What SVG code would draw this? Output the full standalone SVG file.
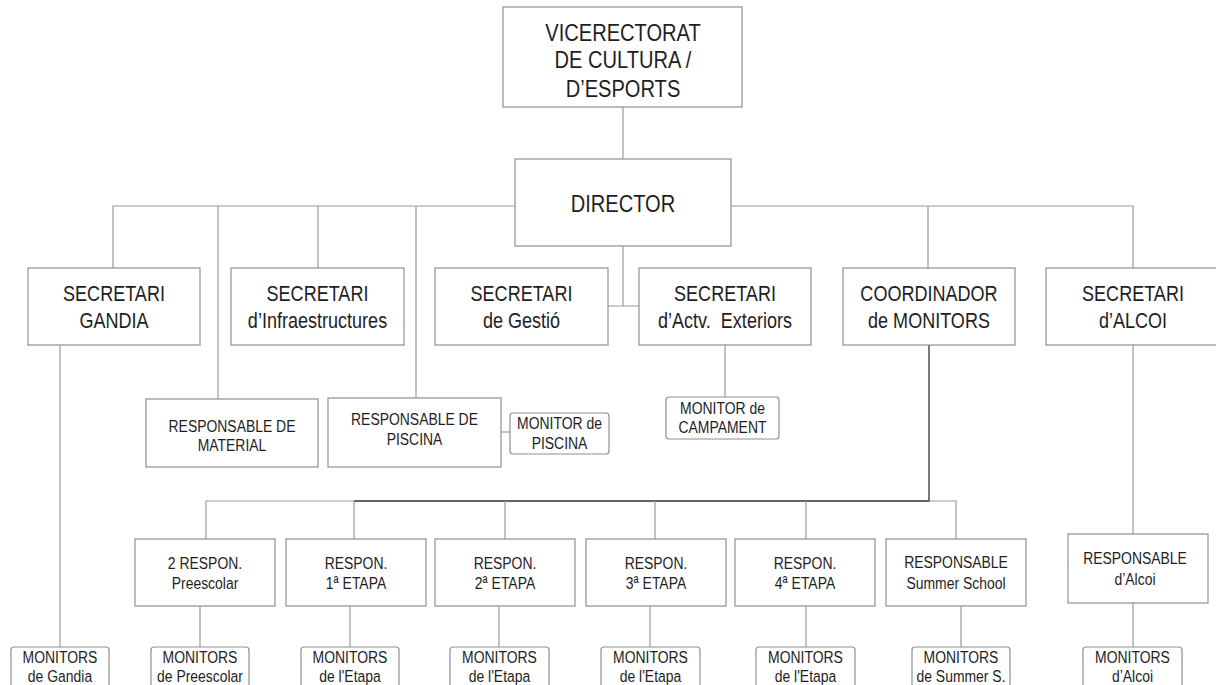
<svg xmlns="http://www.w3.org/2000/svg" width="1216" height="685" viewBox="0 0 1216 685">
<style>
.box{fill:#fff;stroke:#8f8f8f;stroke-width:1.2}
.rbox{fill:#fff;stroke:#8f8f8f;stroke-width:1.2}
.ln{fill:none;stroke:#9a9a9a;stroke-width:1.2}
.dk{fill:none;stroke:#333;stroke-width:1.3}
text{font-family:"Liberation Sans",Arial,sans-serif;fill:#1e1e1e;text-anchor:middle}
.t1{font-size:24.5px}
.t2{font-size:22px}
.t3{font-size:17px}
</style>
<rect width="1216" height="685" fill="#fff"/>
<g id="connectors">
<path class="ln" d="M623 107V159"/>
<path class="ln" d="M515 206H113V268M218 206V399M318 206V268M416 206V398"/>
<path class="ln" d="M731 206H1133V268M928 206V268"/>
<path class="ln" d="M623 246V306M608 306H639"/>
<path class="ln" d="M60 345V647"/>
<path class="ln" d="M501 432H510"/>
<path class="ln" d="M725 345V397"/>
<path class="dk" d="M929 345V501H354"/>
<path class="ln" d="M354 501H206V539M354 501V539M505 501V539M655 501V539M806 501V539"/>
<path class="ln" d="M929 501H956V539"/>
<path class="ln" d="M1133 345V534M1133 603V647"/>
<path class="ln" d="M200 606V647M350 606V647M499 606V647M650 606V647M806 606V647M961 606V647"/>
</g>
<g id="vicerectorat"><rect class="box" x="503" y="7" width="239" height="100"/>
<text class="t1" transform="matrix(0.82 0 0 1 623 0)" y="41">VICERECTORAT</text><text class="t1" transform="matrix(0.82 0 0 1 623 0)" y="68">DE CULTURA /</text><text class="t1" transform="matrix(0.82 0 0 1 623 0)" y="97">D’ESPORTS</text></g>
<g id="director"><rect class="box" x="515" y="159" width="216" height="87"/><text class="t1" transform="matrix(0.82 0 0 1 623 0)" y="212">DIRECTOR</text></g>
<g id="sec-gandia"><rect class="box" x="28" y="268" width="172" height="77"/><text class="t2" transform="matrix(0.82 0 0 1 114 0)" y="301.5">SECRETARI</text><text class="t2" transform="matrix(0.82 0 0 1 114 0)" y="328">GANDIA</text></g>
<g id="sec-infra"><rect class="box" x="231" y="268" width="173" height="77"/><text class="t2" transform="matrix(0.82 0 0 1 317.5 0)" y="301.5">SECRETARI</text><text class="t2" transform="matrix(0.82 0 0 1 317.5 0)" y="328">d’Infraestructures</text></g>
<g id="sec-gestio"><rect class="box" x="435" y="268" width="173" height="77"/><text class="t2" transform="matrix(0.82 0 0 1 521.5 0)" y="301.5">SECRETARI</text><text class="t2" transform="matrix(0.82 0 0 1 521.5 0)" y="328">de Gestió</text></g>
<g id="sec-actv"><rect class="box" x="639" y="268" width="172" height="77"/><text class="t2" transform="matrix(0.82 0 0 1 725 0)" y="301.5">SECRETARI</text><text class="t2" transform="matrix(0.82 0 0 1 725 0)" y="328" style="white-space:pre">d’Actv.  Exteriors</text></g>
<g id="coordinador"><rect class="box" x="843" y="268" width="172" height="77"/><text class="t2" transform="matrix(0.82 0 0 1 929 0)" y="301.5">COORDINADOR</text><text class="t2" transform="matrix(0.82 0 0 1 929 0)" y="328">de MONITORS</text></g>
<g id="sec-alcoi"><rect class="box" x="1046" y="268" width="174" height="77"/><text class="t2" transform="matrix(0.82 0 0 1 1133 0)" y="301.5">SECRETARI</text><text class="t2" transform="matrix(0.82 0 0 1 1133 0)" y="328">d’ALCOI</text></g>
<g id="resp-material"><rect class="box" x="146" y="399" width="172" height="68"/><text class="t3" transform="matrix(0.82 0 0 1 232 0)" y="432">RESPONSABLE DE</text><text class="t3" transform="matrix(0.82 0 0 1 232 0)" y="451">MATERIAL</text></g>
<g id="resp-piscina"><rect class="box" x="328" y="398" width="173" height="69"/><text class="t3" transform="matrix(0.82 0 0 1 414.5 0)" y="425">RESPONSABLE DE</text><text class="t3" transform="matrix(0.82 0 0 1 414.5 0)" y="445">PISCINA</text></g>
<g id="mon-piscina"><rect class="rbox" x="510" y="413" width="99" height="41" rx="3"/><text class="t3" transform="matrix(0.82 0 0 1 559.5 0)" y="429">MONITOR de</text><text class="t3" transform="matrix(0.82 0 0 1 559.5 0)" y="449">PISCINA</text></g>
<g id="mon-campament"><rect class="rbox" x="666" y="397" width="113" height="42" rx="3"/><text class="t3" transform="matrix(0.82 0 0 1 722.5 0)" y="414">MONITOR de</text><text class="t3" transform="matrix(0.82 0 0 1 722.5 0)" y="433">CAMPAMENT</text></g>
<g id="resp-preescolar"><rect class="box" x="135" y="539" width="140" height="67"/><text class="t3" transform="matrix(0.82 0 0 1 205 0)" y="569">2 RESPON.</text><text class="t3" transform="matrix(0.82 0 0 1 205 0)" y="589">Preescolar</text></g>
<g id="resp-1"><rect class="box" x="286" y="539" width="140" height="67"/><text class="t3" transform="matrix(0.82 0 0 1 356 0)" y="569">RESPON.</text><text class="t3" transform="matrix(0.82 0 0 1 356 0)" y="589">1ª ETAPA</text></g>
<g id="resp-2"><rect class="box" x="435" y="539" width="140" height="67"/><text class="t3" transform="matrix(0.82 0 0 1 505 0)" y="569">RESPON.</text><text class="t3" transform="matrix(0.82 0 0 1 505 0)" y="589">2ª ETAPA</text></g>
<g id="resp-3"><rect class="box" x="586" y="539" width="140" height="67"/><text class="t3" transform="matrix(0.82 0 0 1 656 0)" y="569">RESPON.</text><text class="t3" transform="matrix(0.82 0 0 1 656 0)" y="589">3ª ETAPA</text></g>
<g id="resp-4"><rect class="box" x="735" y="539" width="140" height="67"/><text class="t3" transform="matrix(0.82 0 0 1 805 0)" y="569">RESPON.</text><text class="t3" transform="matrix(0.82 0 0 1 805 0)" y="589">4ª ETAPA</text></g>
<g id="resp-summer"><rect class="box" x="886" y="539" width="140" height="67"/><text class="t3" transform="matrix(0.82 0 0 1 956 0)" y="568">RESPONSABLE</text><text class="t3" transform="matrix(0.82 0 0 1 956 0)" y="589">Summer School</text></g>
<g id="resp-alcoi"><rect class="box" x="1068" y="534" width="140" height="69"/><text class="t3" transform="matrix(0.82 0 0 1 1135 0)" y="564">RESPONSABLE</text><text class="t3" transform="matrix(0.82 0 0 1 1135 0)" y="585">d’Alcoi</text></g>
<g id="mon-gandia"><rect class="rbox" x="11" y="647" width="98" height="60" rx="3"/><text class="t3" transform="matrix(0.82 0 0 1 60 0)" y="663">MONITORS</text><text class="t3" transform="matrix(0.82 0 0 1 60 0)" y="682">de Gandia</text></g>
<g id="mon-preescolar"><rect class="rbox" x="151" y="647" width="98" height="60" rx="3"/><text class="t3" transform="matrix(0.82 0 0 1 200 0)" y="663">MONITORS</text><text class="t3" transform="matrix(0.82 0 0 1 200 0)" y="682">de Preescolar</text></g>
<g id="mon-1"><rect class="rbox" x="301" y="647" width="98" height="60" rx="3"/><text class="t3" transform="matrix(0.82 0 0 1 350 0)" y="663">MONITORS</text><text class="t3" transform="matrix(0.82 0 0 1 350 0)" y="682">de l'Etapa</text></g>
<g id="mon-2"><rect class="rbox" x="450" y="647" width="99" height="60" rx="3"/><text class="t3" transform="matrix(0.82 0 0 1 499.5 0)" y="663">MONITORS</text><text class="t3" transform="matrix(0.82 0 0 1 499.5 0)" y="682">de l'Etapa</text></g>
<g id="mon-3"><rect class="rbox" x="601" y="647" width="99" height="60" rx="3"/><text class="t3" transform="matrix(0.82 0 0 1 650.5 0)" y="663">MONITORS</text><text class="t3" transform="matrix(0.82 0 0 1 650.5 0)" y="682">de l'Etapa</text></g>
<g id="mon-4"><rect class="rbox" x="756" y="647" width="99" height="60" rx="3"/><text class="t3" transform="matrix(0.82 0 0 1 805.5 0)" y="663">MONITORS</text><text class="t3" transform="matrix(0.82 0 0 1 805.5 0)" y="682">de l'Etapa</text></g>
<g id="mon-summer"><rect class="rbox" x="912" y="647" width="98" height="60" rx="3"/><text class="t3" transform="matrix(0.82 0 0 1 961 0)" y="663">MONITORS</text><text class="t3" transform="matrix(0.82 0 0 1 961 0)" y="682">de Summer S.</text></g>
<g id="mon-alcoi"><rect class="rbox" x="1083" y="647" width="99" height="60" rx="3"/><text class="t3" transform="matrix(0.82 0 0 1 1132.5 0)" y="663">MONITORS</text><text class="t3" transform="matrix(0.82 0 0 1 1132.5 0)" y="682">d’Alcoi</text></g>
</svg>
